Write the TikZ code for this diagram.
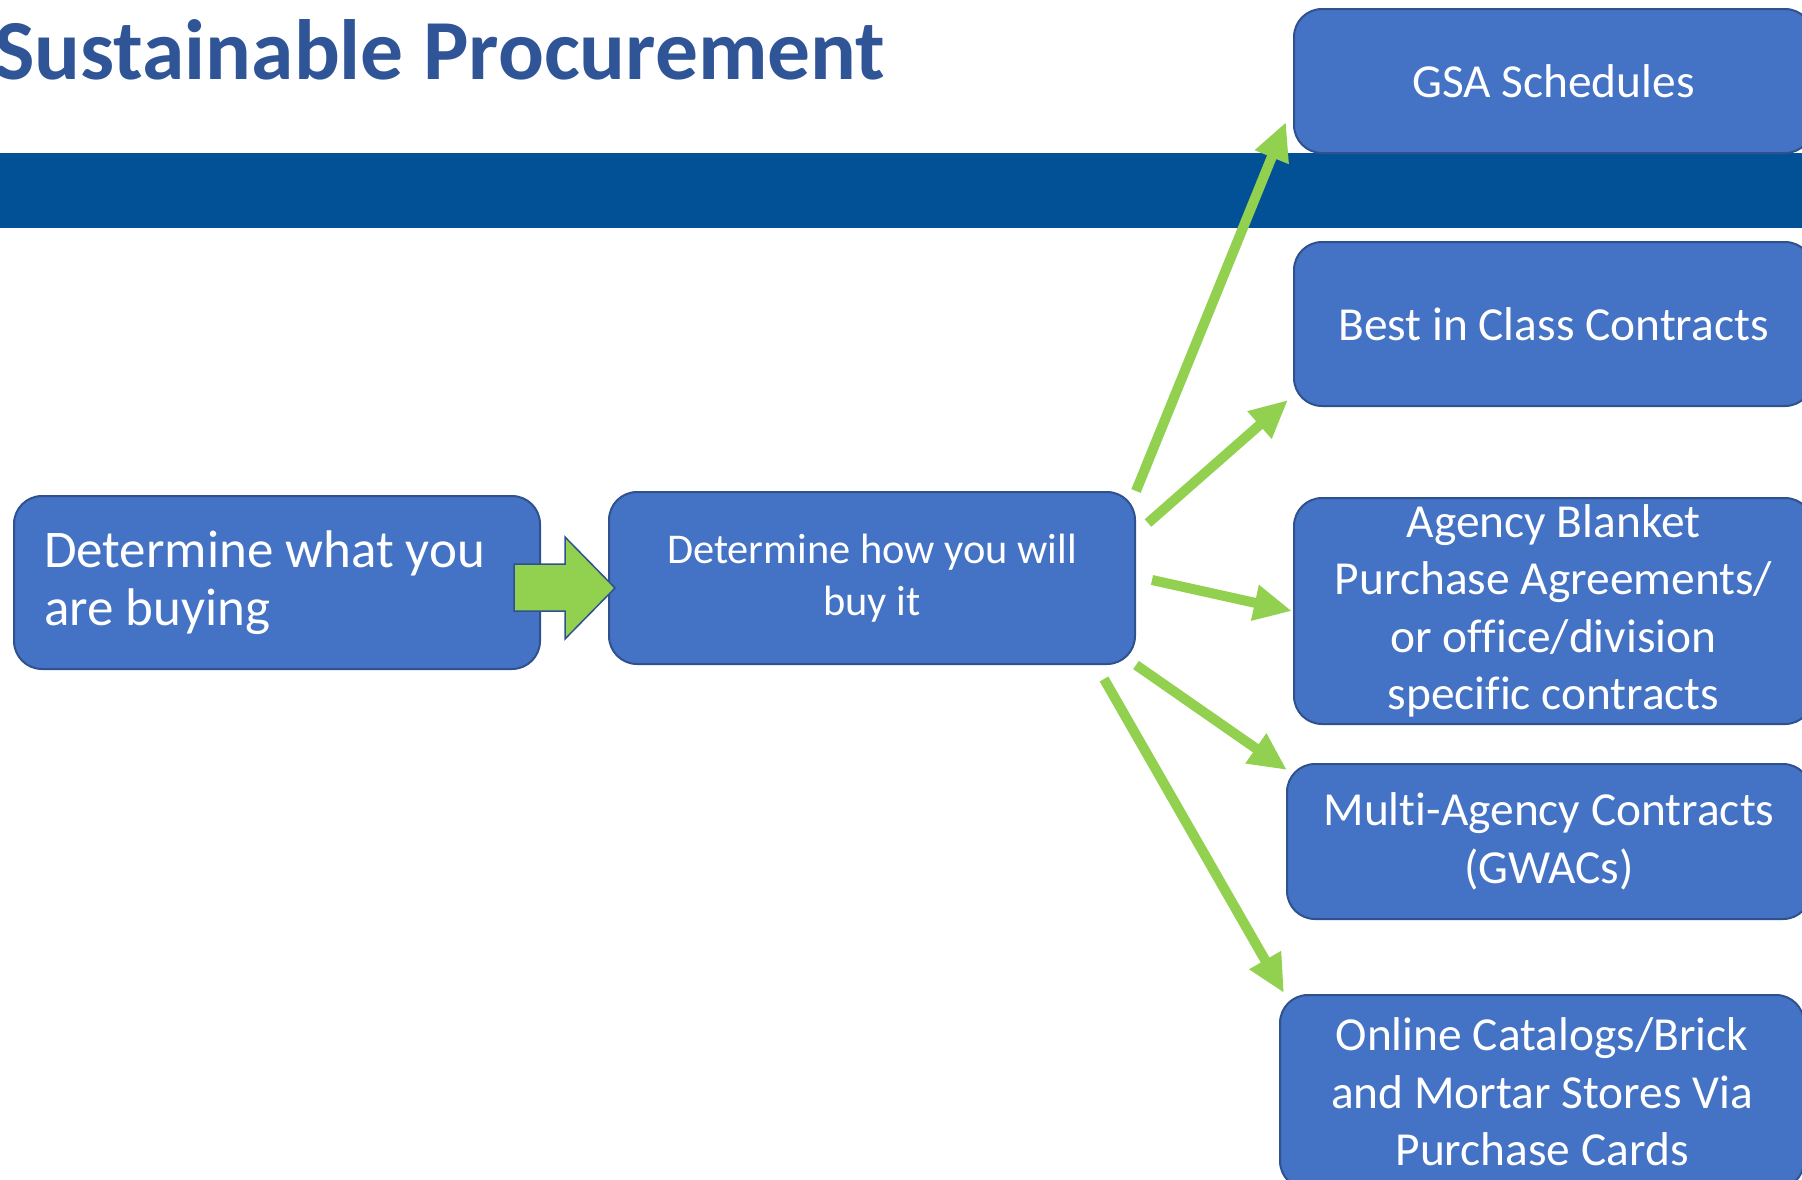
\documentclass[tikz,border=0pt]{standalone}
\usepackage{fontspec}
\setmainfont{Carlito}[Ligatures={NoCommon,NoRequired,NoContextual,NoRare}]
\usetikzlibrary{arrows.meta}
\definecolor{spnavy}{RGB}{47,85,151}
\definecolor{spband}{RGB}{2,81,150}
\definecolor{spbox}{RGB}{68,114,196}
\definecolor{spedge}{RGB}{47,82,143}
\definecolor{spgreen}{RGB}{146,208,80}

\begin{document}
\begin{tikzpicture}[x=1pt, y=-1pt,
  stepbox/.style={rectangle, rounded corners=28pt, fill=spbox, draw=spedge, line width=2pt,
    text=white, align=center, inner sep=0pt},
  optbox/.style={stepbox, font=\fontsize{47.4}{57.5}\selectfont},
  greenarrow/.style={-{Triangle[length=38pt,width=34pt]}, line width=10pt, color=spgreen}]
\clip (0,0) rectangle (1802,1179);

% Header band and title
\fill[spband] (0,153) rectangle (1802,228);
\node[anchor=base west, inner sep=0pt, text=spnavy, font=\fontsize{85.5}{100}\selectfont\bfseries] (title) at (-6,79) {Sustainable Procurement};

% The two steps
\node[stepbox, minimum width=526pt, minimum height=173pt, align=flush left, text width=466pt,
  font=\fontsize{53}{58}\selectfont] (what) at (277,582.5) {Determine what you\\are buying};
\node[stepbox, minimum width=526pt, minimum height=172pt,
  font=\fontsize{42.4}{52}\selectfont] (how) at (872,578) {Determine how you will\\buy it};

% Ways to buy
\node[optbox, minimum width=519pt, minimum height=144pt] (gsa) at (1553.5,81) {GSA Schedules};
\node[optbox, minimum width=519pt, minimum height=164pt] (best) at (1553.5,324) {Best in Class Contracts};
\node[optbox, minimum width=519pt, minimum height=226pt] (agency) at (1553.5,611) {Agency Blanket\\Purchase Agreements/\\or office/division\\specific contracts};
\node[optbox, minimum width=524pt, minimum height=155pt] (multi) at (1549,841.5) {Multi-Agency Contracts\\(GWACs)};
\node[optbox, minimum width=524pt, minimum height=194pt] (online) at (1542,1092) {Online Catalogs/Brick\\and Mortar Stores Via\\Purchase Cards};

% Block arrow between the steps
\draw[fill=spgreen, draw=spedge, line width=1.5pt] (514,564) -- (565,564) -- (565,537) -- (615,588)
  -- (565,639) -- (565,611) -- (514,611) -- cycle;

% Arrows to each way
\draw[greenarrow] (how.north east) -- ([shift={(-7,-32)}]gsa.south west);
\draw[greenarrow] ([shift={(12,-55)}]how.east) -- ([shift={(-5,-7)}]best.south west);
\draw[greenarrow] ([shift={(16,2)}]how.east) -- ([shift={(-1,0)}]agency.west);
\draw[greenarrow] (how.south east) -- ([shift={(1,7)}]multi.north west);
\draw[greenarrow] ([shift={(-32,14)}]how.south east) -- ([shift={(5,-1)}]online.north west);
\end{tikzpicture}
\end{document}
